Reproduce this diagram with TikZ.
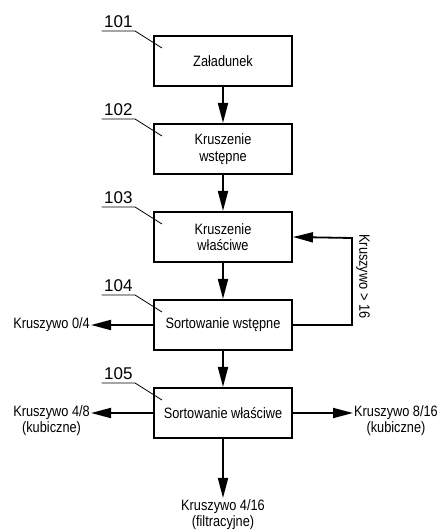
\documentclass[tikz,border=0pt]{standalone}
\usepackage{fontspec}
\setmainfont{Liberation Sans}
\newfontfamily\narrowsans[FakeStretch=0.85]{Liberation Sans}
\usetikzlibrary{arrows.meta, positioning}

\begin{document}
\begin{tikzpicture}[
        box/.style={rectangle, draw, line width=2pt, minimum width=138pt, minimum height=50pt, align=center, font=\fontsize{15}{16.5}\narrowsans},
        arr/.style={-{Triangle[length=20pt, width=10pt]}, line width=1.8pt},
        refnum/.style={inner xsep=0pt, inner ysep=3pt, minimum width=33pt, font=\fontsize{17}{18}\selectfont},
        lead/.style={line width=0.8pt},
        outtxt/.style={align=center, inner sep=1pt, font=\fontsize{15}{16}\narrowsans},
        node distance=36pt
        ]
        \useasboundingbox (0,0) rectangle (443pt,531pt);
        \node[box] (b101) at (223pt,470pt) {Załadunek};
        \node[box, below=of b101] (b102) {Kruszenie\\wstępne};
        \node[box, below=of b102] (b103) {Kruszenie\\właściwe};
        \node[box, below=of b103] (b104) {Sortowanie wstępne};
        \node[box, below=of b104] (b105) {Sortowanie właściwe};
        % reference numbers
        \node[refnum, above left=4pt and 18pt of b101.north west] (r101) {101};
        \node[refnum, above left=4pt and 18pt of b102.north west] (r102) {102};
        \node[refnum, above left=4pt and 18pt of b103.north west] (r103) {103};
        \node[refnum, above left=4pt and 18pt of b104.north west] (r104) {104};
        \node[refnum, above left=4pt and 18pt of b105.north west] (r105) {105};
        \draw[lead] (r101.south west) -- (r101.south east) -- ++(27pt,-17pt);
        \draw[lead] (r102.south west) -- (r102.south east) -- ++(27pt,-17pt);
        \draw[lead] (r103.south west) -- (r103.south east) -- ++(27pt,-17pt);
        \draw[lead] (r104.south west) -- (r104.south east) -- ++(27pt,-17pt);
        \draw[lead] (r105.south west) -- (r105.south east) -- ++(27pt,-17pt);
        % outputs
        \node[outtxt, left=62pt of b104] (out04) {Kruszywo 0/4};
        \node[outtxt, left=62pt of b105, yshift=-8pt] (out48) {Kruszywo 4/8\\(kubiczne)};
        \node[outtxt, right=60pt of b105, yshift=-8pt] (out816) {Kruszywo 8/16\\(kubiczne)};
        \node[outtxt, below=59pt of b105] (out416) {Kruszywo 4/16\\(filtracyjne)};
        \draw[arr] (b101) -- (b102);
        \draw[arr] (b102) -- (b103);
        \draw[arr] (b103) -- (b104);
        \draw[arr] (b104) -- (b105);
        \draw[arr] (b104.east) -- ++(59pt,0) -- node[rotate=-90, anchor=south, pos=0.56, font=\fontsize{15}{16}\narrowsans] (lbl16) {Kruszywo > 16} ++(0,87pt) -- (b103.east);
        \draw[arr] (b104) -- (out04);
        \draw[arr] (b105.west) -- (b105.west -| out48.east);
        \draw[arr] (b105.east) -- (b105.east -| out816.west);
        \draw[arr] (b105) -- (out416);
    \end{tikzpicture}
\end{document}
